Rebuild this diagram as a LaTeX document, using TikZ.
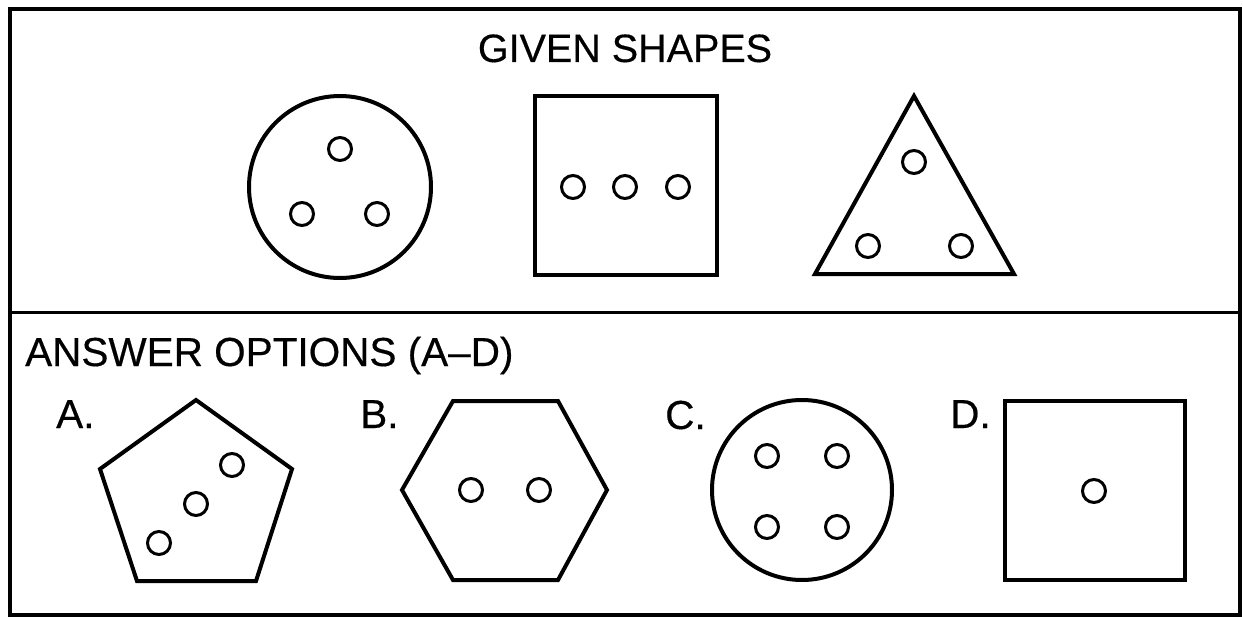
\documentclass[tikz,border=0pt]{standalone}
\usepackage{fontspec}
\setmainfont{Liberation Sans}[FakeBold=0.4]
\begin{document}
\begin{tikzpicture}[x=1pt,y=-1pt,
  shapeline/.style={line width=4pt,line join=miter},
  dotline/.style={line width=3pt},
  frameline/.style={line width=4pt},
  divline/.style={line width=3pt},
  lbl/.style={inner sep=0pt,anchor=base west,font=\fontsize{40.5}{44}\selectfont},
  title/.style={inner sep=0pt,anchor=base,font=\fontsize{39.5}{44}\selectfont}]
\useasboundingbox (0,0) rectangle (1243,618);
\fill[white] (0,0) rectangle (1243,618);
% frame
\draw[frameline] (10,9) rectangle (1240,615);
\draw[divline] (10,312) -- (1240,312);
% titles
\node[title] (t1) at (625,62) {GIVEN SHAPES};
\node[lbl] (t2) at (25,366) {ANSWER OPTIONS (A–D)};
% given circle
\draw[shapeline] (340,187) circle (91);
\draw[dotline] (340,149) circle (11.5) (302,214) circle (11.5) (377,214) circle (11.5);
% given square
\draw[shapeline] (535,96) rectangle (717,275);
\draw[dotline] (573,187) circle (11.5) (625,187) circle (11.5) (678,187) circle (11.5);
% given triangle
\draw[shapeline] (914,96) -- (1014,274) -- (815,274) -- cycle;
\draw[dotline] (914,162) circle (11.5) (868,246) circle (11.5) (961,246) circle (11.5);
% labels
\node[lbl] (la) at (56,428) {A.};
\node[lbl] (lb) at (360,428) {B.};
\node[lbl] (lc) at (665,429) {C.};
\node[lbl] (ld) at (950,428) {D.};
% A pentagon
\draw[shapeline] (196,400) -- (292,469) -- (256,581) -- (137,581) -- (100,469) -- cycle;
\draw[dotline] (232,465) circle (11.5) (196,504) circle (11.5) (159,543) circle (11.5);
% B hexagon
\draw[shapeline] (453,401) -- (558,401) -- (607,490) -- (558,580) -- (453,580) -- (402,490) -- cycle;
\draw[dotline] (471,490) circle (11.5) (539,490) circle (11.5);
% C circle
\draw[shapeline] (802,490) circle (90);
\draw[dotline] (767,456) circle (11.5) (837,456) circle (11.5) (767,527) circle (11.5) (837,527) circle (11.5);
% D square
\draw[shapeline] (1005,401) rectangle (1185,580);
\draw[dotline] (1094,491) circle (11.5);
\end{tikzpicture}
\end{document}
